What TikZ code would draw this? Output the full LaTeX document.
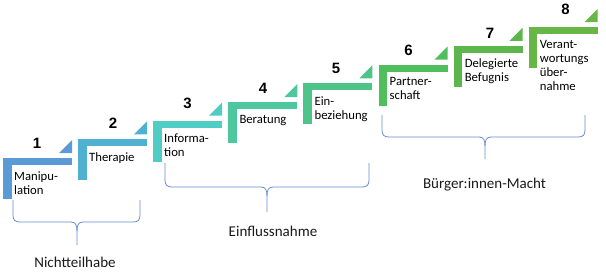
\documentclass[tikz,border=0pt]{standalone}
\usepackage{fontspec}
\setmainfont{Carlito}
\newfontfamily\numfont{Liberation Sans}
\definecolor{c1}{RGB}{91,155,213}
\definecolor{c2}{RGB}{80,176,208}
\definecolor{c3}{RGB}{79,205,197}
\definecolor{c4}{RGB}{77,199,158}
\definecolor{c5}{RGB}{78,195,138}
\definecolor{c6}{RGB}{81,190,94}
\definecolor{c7}{RGB}{92,182,76}
\definecolor{c8}{RGB}{104,182,70}
\definecolor{bracecol}{RGB}{105,140,208}
\tikzset{
  steptext/.style={anchor=north west,inner sep=0pt,align=left,font=\fontsize{12.7}{14}\selectfont,text=black},
  stepnum/.style={inner sep=0pt,font=\numfont\bfseries\fontsize{15}{15}\selectfont,text=black},
  groupl/.style={inner sep=0pt,font=\fontsize{15}{15}\selectfont,text=black!90},
  bracel/.style={draw=bracecol,line width=0.8pt,line join=round}
}
\newcommand{\stepshape}[4]{% left, top, color, name
  \fill[#3] (#1,#2) rectangle ++(69,7);
  \fill[#3] (#1,#2) rectangle ++(8.5,41);
  \fill[#3] (#1+56,#2-5) -- (#1+69,#2-5) -- (#1+69,#2-18) -- cycle;
}
\newcommand{\mybrace}[6]{% left, right, top, hline, center, bottom
  \draw[bracel] (#1,#3) -- (#1,#4-7) .. controls (#1,#4-2) and (#1+2,#4) .. (#1+7,#4)
    -- (#5-6,#4) .. controls (#5-1.5,#4) and (#5,#4+3) .. (#5,#4+9) -- (#5,#6);
  \draw[bracel] (#2,#3) -- (#2,#4-7) .. controls (#2,#4-2) and (#2-2,#4) .. (#2-7,#4)
    -- (#5+6,#4) .. controls (#5+1.5,#4) and (#5,#4+3) .. (#5,#4+9);
}
\begin{document}
\begin{tikzpicture}[x=1pt,y=-1pt]
\useasboundingbox (0,0) rectangle (606,274);
\stepshape{3}{158}{c1}{}
\stepshape{78}{139.3}{c2}{}
\stepshape{153}{120.6}{c3}{}
\stepshape{228.3}{102}{c4}{}
\stepshape{303.4}{83.3}{c5}{}
\stepshape{378.5}{64.5}{c6}{}
\stepshape{453.6}{45.8}{c7}{}
\stepshape{528.7}{27}{c8}{}
\node[steptext] (s1) at (14,171.3) {Manipu-\\lation};
\node[steptext] (s2) at (89,152.3) {Therapie};
\node[steptext] (s3) at (164,133.6) {Informa-\\tion};
\node[steptext] (s4) at (239.3,115) {Beratung};
\node[steptext] (s5) at (314.4,96.3) {Ein-\\beziehung};
\node[steptext] (s6) at (389.5,77.5) {Partner-\\schaft};
\node[steptext] (s7) at (464.6,58.8) {Delegierte\\Befugnis};
\node[steptext] (s8) at (539.7,40) {Verant-\\wortungs\\über-\\nahme};
\node[stepnum] (n1) at (37,143) {1};
\node[stepnum] (n2) at (113,123) {2};
\node[stepnum] (n3) at (187.5,103) {3};
\node[stepnum] (n4) at (263,88) {4};
\node[stepnum] (n5) at (336,68) {5};
\node[stepnum] (n6) at (408.5,50) {6};
\node[stepnum] (n7) at (490,33) {7};
\node[stepnum] (n8) at (565.5,9.5) {8};
\mybrace{13}{140}{200}{222}{77}{245}
\mybrace{165}{369}{163}{187}{267}{212}
\mybrace{382}{585}{115}{137}{485}{159}
\node[groupl] (g1) at (75,262) {Nichtteilhabe};
\node[groupl] (g2) at (273,231) {Einflussnahme};
\node[groupl] (g3) at (484.5,185) {Bürger:innen-Macht};
\end{tikzpicture}
\end{document}
